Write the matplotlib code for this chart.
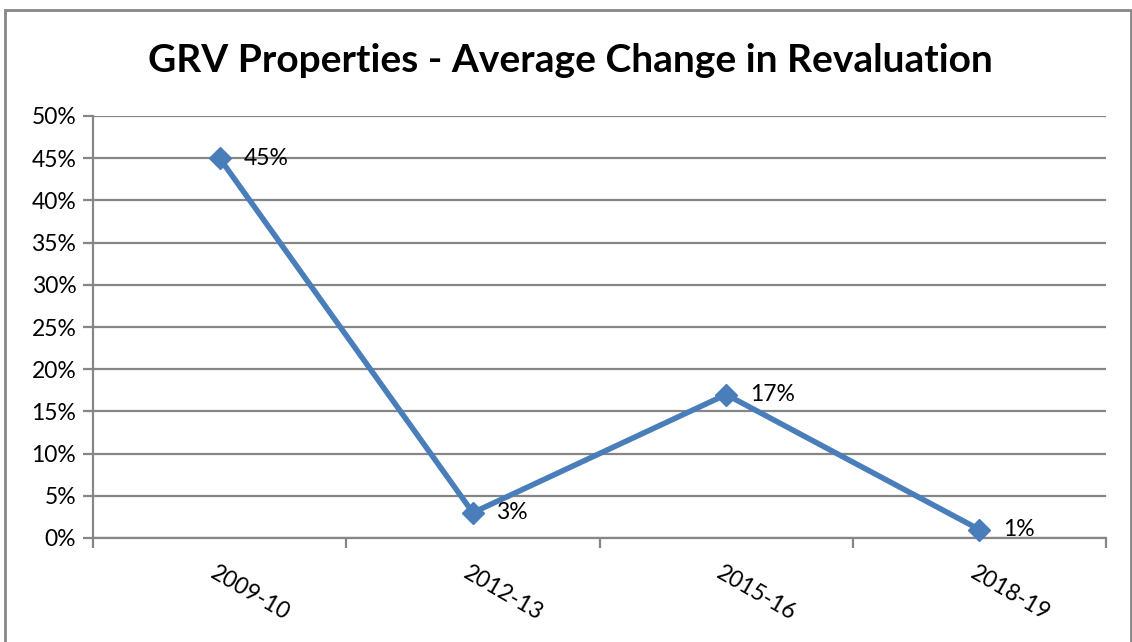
import matplotlib
matplotlib.use("Agg")
import matplotlib.pyplot as plt
from matplotlib.patches import Rectangle
from matplotlib.ticker import MultipleLocator, FuncFormatter, FixedLocator

# data
periods = ["2009-10", "2012-13", "2015-16", "2018-19"]
avg_change = [45, 3, 17, 1]
point_labels = ["45%", "3%", "17%", "1%"]

grid_col = "#868686"
line_col = "#4A7EBB"

plt.rcParams["font.family"] = ["Lato", "DejaVu Sans"]

fig = plt.figure(figsize=(11.32, 6.42), dpi=100)
ax = fig.add_axes([93 / 1132, 1 - 538 / 642, (1106 - 93) / 1132, (538 - 116) / 642])

# outer chart border (bottom edge runs off the image)
fig.patches.append(Rectangle((5 / 1132, -0.05), (1131 - 5) / 1132, 1 - 10 / 642 + 0.05,
                             transform=fig.transFigure, fill=False,
                             edgecolor=grid_col, linewidth=2))

xs = list(range(len(periods)))
ax.plot(xs, avg_change, color=line_col, linewidth=4, marker="D", markersize=11,
        markerfacecolor=line_col, markeredgecolor=line_col, zorder=3, clip_on=False)

for x, y, lab in zip(xs, avg_change, point_labels):
    ax.annotate(lab, (x, y), xytext=(17, 0), textcoords="offset points",
                va="center", ha="left", fontsize=16.5, color="black")

ax.set_xlim(-0.5, len(periods) - 0.5)
ax.set_ylim(0, 50)
ax.yaxis.set_major_locator(MultipleLocator(5))
ax.yaxis.set_major_formatter(FuncFormatter(lambda v, p: f"{v:.0f}%"))
ax.grid(axis="y", color=grid_col, linewidth=1.6)
ax.set_axisbelow(True)

# category boundary ticks, labels at the centres
ax.xaxis.set_major_locator(FixedLocator([i - 0.5 for i in range(len(periods) + 1)]))
ax.xaxis.set_major_formatter(FuncFormatter(lambda v, p: ""))
ax.tick_params(axis="x", which="major", length=7, width=1.6, color=grid_col)
ax.tick_params(axis="y", length=7, width=1.6, color=grid_col, labelsize=16.5, pad=5)
for x, lab in zip(xs, periods):
    ax.text(x - 0.03, -4.0, lab, rotation=-30, rotation_mode="anchor",
            ha="left", va="center", fontsize=16.5)

for side in ["top", "right"]:
    ax.spines[side].set_visible(False)
for side in ["left", "bottom"]:
    ax.spines[side].set_color(grid_col)
    ax.spines[side].set_linewidth(1.6)

fig.text(570 / 1132, 1 - 60 / 642, "GRV Properties - Average Change in Revaluation",
         ha="center", va="center", fontsize=28, fontweight="bold")

fig.savefig("out.png", dpi=100)
plt.close(fig)
